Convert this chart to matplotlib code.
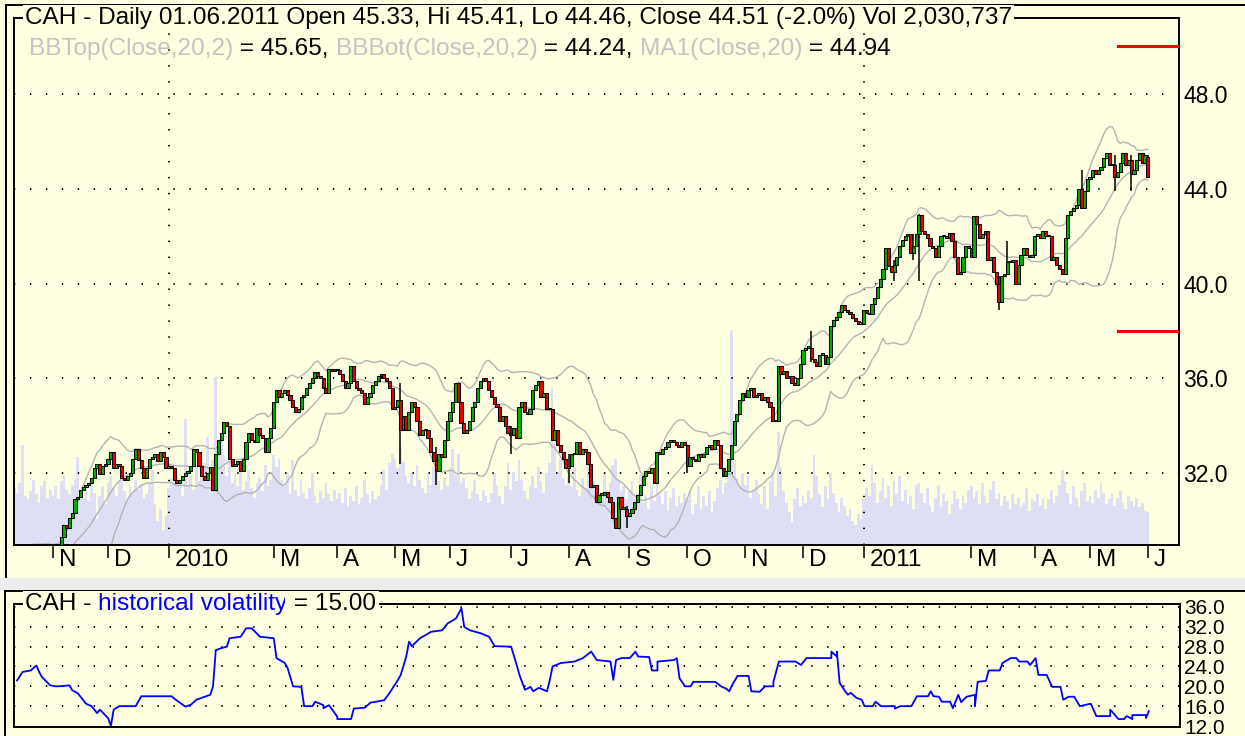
import numpy as np
import pandas as pd
import matplotlib
matplotlib.use("Agg")
import matplotlib.pyplot as plt
from matplotlib.lines import Line2D
from matplotlib.patches import Rectangle
import matplotlib.transforms as mtrans

# ---------------- data (trading-day index 0 = 02 Nov 2009) ----------------
first_day = -34
close_pre = [28.9, 29.1, 28.8, 28.5, 28.2, 27.9, 27.7, 27.8, 28.1, 28.4, 28.6, 28.3, 28.0, 27.8, 27.9, 28.2, 28.5, 28.7, 28.4, 28.2]
close_oct09 = [28.4, 28.6, 28.3, 28.5, 28.7, 28.9, 28.6, 28.95, 28.5, 28.3, 28.6, 28.4, 28.7, 28.8]
close_nov09 = [28.8, 28.9, 28.7, 29.3, 29.8, 29.7, 30.1, 30.3, 30.9, 31.0, 31.3, 31.4, 31.5, 31.6, 31.8, 32.2, 32.4, 31.95, 32.3, 32.4]
close_dec09 = [32.6, 32.9, 32.2, 32.4, 32.3, 31.8, 31.7, 31.9, 32.0, 32.6, 33.0, 32.55, 32.2, 31.8, 32.2, 32.6, 32.7, 32.8, 32.5, 32.9, 32.7, 32.2]
close_jan10 = [32.3, 32.2, 31.7, 31.6, 31.7, 31.9, 32.0, 32.1, 32.3, 33.0, 32.9, 32.3, 31.9, 31.7, 32.0, 32.25, 31.3, 32.8, 33.4]
close_feb10 = [33.7, 34.15, 34.0, 32.6, 32.3, 32.4, 32.5, 32.1, 32.6, 33.3, 33.7, 33.4, 33.3, 33.9, 33.6, 33.5, 32.9, 33.5, 33.9]
close_mar10 = [35.0, 35.5, 35.2, 35.4, 35.5, 35.3, 35.1, 34.8, 34.6, 34.7, 35.2, 35.3, 35.6, 35.8, 36.0, 36.25, 36.1, 36.0, 35.6, 35.4, 36.4, 36.3, 36.4]
close_apr10 = [36.35, 36.2, 35.9, 35.6, 35.8, 36.5, 35.9, 35.6, 35.5, 35.4, 34.9, 35.2, 35.4, 35.7, 35.9, 36.1, 36.2, 36.0, 35.9, 35.6, 34.7]
close_may10 = [34.8, 35.1, 33.8, 34.4, 33.8, 34.6, 35.0, 34.8, 34.2, 33.6, 33.8, 33.8, 33.5, 32.9, 32.5, 32.1, 32.8, 32.7, 33.4, 34.2]
close_jun10 = [34.6, 35.0, 35.8, 35.0, 34.1, 33.7, 33.8, 34.2, 34.8, 35.0, 35.6, 35.9, 36.0, 35.9, 35.5, 35.2, 34.9, 34.8, 34.2, 34.4, 34.0, 33.7]
close_jul10 = [33.6, 33.9, 33.5, 34.8, 35.0, 34.6, 34.5, 34.7, 35.5, 35.7, 35.9, 35.2, 35.4, 34.7, 34.7, 33.4, 33.8, 33.2, 32.9, 32.6, 32.2]
close_aug10 = [32.3, 32.8, 32.8, 33.3, 32.8, 33.0, 32.9, 32.4, 31.4, 31.5, 30.8, 31.1, 31.1, 31.2, 31.0, 30.8, 30.1, 29.7, 31.0, 30.5, 30.5, 30.2]
close_sep10 = [30.3, 30.5, 30.8, 31.1, 31.5, 31.9, 32.1, 32.0, 32.2, 31.6, 32.9, 32.8, 33.0, 33.1, 33.3, 33.4, 33.3, 33.2, 33.1, 33.3, 33.2]
close_oct10 = [32.3, 32.7, 32.6, 32.5, 32.8, 32.7, 32.8, 33.1, 33.2, 33.0, 33.4, 33.2, 32.2, 31.9, 32.1, 32.6, 33.2, 34.2, 34.5, 35.1, 35.4]
close_nov10 = [35.2, 35.5, 35.6, 35.2, 35.3, 35.4, 35.1, 35.2, 35.0, 34.8, 34.2, 34.2, 36.5, 36.2, 36.3, 36.0, 36.1, 35.8, 35.7, 36.0, 36.6]
close_dec10 = [37.2, 37.3, 37.3, 36.8, 36.7, 36.5, 37.0, 37.0, 36.6, 36.9, 38.2, 38.45, 38.6, 38.8, 39.1, 38.9, 38.8, 38.7, 38.55, 38.4, 38.3, 38.3]
close_jan11 = [38.9, 38.75, 38.7, 39.15, 39.4, 39.85, 40.2, 40.6, 41.5, 40.75, 40.5, 40.8, 41.1, 41.6, 41.85, 42.0, 42.1, 41.3, 41.6, 42.1]
close_feb11 = [42.9, 42.2, 42.1, 41.9, 41.6, 41.5, 41.1, 41.6, 42.0, 42.0, 41.9, 42.15, 41.8, 41.1, 40.4, 40.5, 41.1, 41.6, 41.5]
close_mar11 = [41.1, 42.85, 42.5, 41.9, 42.1, 42.2, 41.0, 41.1, 40.5, 40.0, 39.2, 40.3, 40.4, 40.9, 40.9, 41.0, 40.0, 40.8, 41.2, 41.5, 41.2, 41.1, 41.2]
close_apr11 = [42.0, 42.1, 41.9, 42.2, 42.0, 42.0, 41.0, 41.1, 40.8, 40.6, 40.4, 41.9, 42.9, 43.05, 43.2, 43.3, 44.0, 43.2, 43.9, 44.4]
close_may11 = [44.5, 44.8, 44.6, 44.8, 44.9, 45.3, 45.5, 45.0, 45.0, 44.5, 44.7, 45.1, 45.5, 45.0, 45.2, 44.6, 44.8, 45.2, 45.5, 45.1, 45.42]
close_jun11 = [44.51]
last_open = 45.33

vol_pre = [3.4, 3.8, 3.1, 3.6, 4.0, 3.3, 2.9, 3.7, 3.5, 3.2, 3.9, 3.0, 3.6, 3.3, 4.1, 3.4, 2.8, 3.6, 3.9, 3.2]
vol_oct09 = [3.5, 3.2, 3.8, 6.1, 3.0, 2.8, 3.3, 4.0, 3.1, 2.6, 3.6, 3.9, 2.9, 3.4]
vol_nov09 = [3.0, 3.6, 2.8, 3.9, 4.2, 3.4, 3.1, 3.7, 4.0, 5.4, 3.3, 2.9, 3.5, 2.7, 3.8, 3.2, 1.6, 3.0, 3.6, 2.5]
vol_dec09 = [3.8, 4.2, 3.5, 3.0, 3.9, 4.5, 3.3, 2.8, 3.6, 3.2, 4.0, 3.4, 3.7, 2.9, 3.1, 3.8, 4.6, 2.5, 1.5, 2.2, 0.9, 1.8]
vol_jan10 = [3.5, 4.1, 3.8, 4.4, 3.9, 3.0, 7.7, 3.6, 4.2, 3.4, 4.8, 3.9, 4.5, 5.0, 6.6, 4.0, 5.2, 10.3, 5.8]
vol_feb10 = [6.8, 5.5, 4.2, 5.9, 3.8, 4.4, 3.6, 5.0, 3.4, 3.9, 4.6, 3.5, 2.9, 3.8, 4.1, 3.3, 4.9, 3.6, 4.0]
vol_mar10 = [5.5, 4.8, 5.3, 4.0, 3.6, 4.5, 3.1, 5.2, 3.4, 3.0, 4.0, 3.2, 2.8, 3.5, 4.4, 3.0, 2.6, 3.3, 2.9, 3.8, 3.1, 2.7, 3.4]
vol_apr10 = [2.8, 3.2, 2.6, 3.5, 2.4, 3.0, 2.7, 3.6, 2.5, 2.9, 4.0, 3.1, 2.6, 3.3, 2.8, 3.0, 3.7, 4.6, 3.4, 5.0, 5.6]
vol_may10 = [5.3, 4.7, 6.0, 5.1, 4.2, 3.8, 4.5, 3.6, 4.9, 4.0, 3.5, 3.2, 4.4, 3.7, 4.8, 5.2, 3.9, 3.4, 4.1, 3.6]
vol_jun10 = [4.8, 5.9, 4.3, 5.6, 3.8, 4.1, 3.5, 2.8, 3.3, 4.0, 3.1, 2.7, 3.4, 3.0, 2.6, 3.2, 4.4, 3.7, 3.0, 2.5, 3.6, 5.0]
vol_jul10 = [3.4, 4.5, 3.9, 5.2, 4.0, 3.3, 2.8, 3.6, 4.2, 3.5, 4.8, 3.9, 3.2, 4.4, 5.0, 9.6, 6.2, 4.5, 5.3, 4.1, 3.7]
vol_aug10 = [4.2, 3.6, 4.8, 3.4, 3.0, 4.1, 3.5, 5.0, 4.6, 3.9, 3.2, 3.7, 2.9, 4.4, 3.1, 3.8, 4.9, 5.3, 4.0, 3.3, 3.6, 2.8]
vol_sep10 = [3.4, 3.9, 2.8, 3.2, 4.3, 2.6, 3.0, 2.2, 3.6, 2.7, 4.0, 3.1, 2.5, 3.3, 2.1, 2.9, 3.5, 2.4, 3.0, 2.6, 3.2]
vol_oct10 = [2.8, 3.4, 1.9, 2.5, 3.6, 2.2, 3.0, 2.4, 3.3, 2.0, 2.7, 3.5, 4.0, 3.1, 3.8, 4.6, 13.2, 5.2, 4.1, 3.6, 4.4]
vol_nov10 = [3.7, 4.2, 2.9, 3.4, 4.0, 3.1, 2.5, 3.6, 2.2, 3.9, 4.5, 3.0, 6.9, 4.8, 3.3, 2.6, 2.0, 1.4, 2.8, 3.5, 2.4]
vol_dec10 = [3.0, 2.6, 3.4, 2.9, 5.5, 4.2, 3.1, 2.3, 3.6, 2.8, 4.4, 3.2, 2.6, 2.0, 2.9, 2.4, 1.8, 2.2, 1.5, 1.2, 1.9, 1.6]
vol_jan11 = [2.8, 3.5, 3.0, 4.9, 3.8, 2.6, 3.3, 4.1, 2.9, 3.6, 2.4, 3.9, 3.1, 4.2, 2.7, 3.4, 2.5, 3.0, 2.2, 3.7]
vol_feb11 = [3.8, 3.2, 2.6, 3.5, 2.4, 2.0, 2.9, 3.7, 2.3, 3.1, 2.7, 1.9, 2.5, 3.3, 2.8, 2.2, 3.0, 2.6, 3.4]
vol_mar11 = [3.6, 2.9, 3.3, 2.5, 3.8, 3.0, 2.6, 3.4, 3.9, 2.8, 3.2, 2.4, 3.0, 2.7, 2.2, 3.1, 2.5, 2.9, 2.3, 2.6, 3.5, 2.1, 2.8]
vol_apr11 = [2.7, 3.1, 2.4, 2.9, 2.2, 2.8, 3.4, 2.6, 3.0, 3.7, 4.6, 3.9, 3.2, 2.5, 3.6, 2.9, 2.3, 3.3, 3.8, 2.7]
vol_may11 = [3.0, 2.6, 3.4, 2.9, 3.8, 3.2, 2.5, 2.8, 3.1, 2.4, 2.9, 3.3, 2.6, 2.2, 3.0, 2.7, 2.4, 2.9, 2.3, 2.6, 2.1]
vol_jun11 = [2.030737]

wick_days = [126, 139, 166, 187, 208, 230, 275, 305, 314, 312, 343, 346, 373, 385, 391, 397]
wick_lows = [32.4, 31.5, 32.8, 31.6, 29.7, 32.0, 36.7, 40.1, 40.1, 41.0, 38.9, 40.9, 43.2, 43.9, 43.9, 44.46]
wick_highs = [35.8, 33.1, 34.0, 32.8, 30.6, 33.2, 38.0, 41.0, 42.95, 42.1, 40.3, 41.8, 44.8, 45.4, 45.4, 45.41]

month_labels = ["N", "D", "2010", "M", "A", "M", "J", "J", "A", "S", "O", "N", "D", "2011", "M", "A", "M", "J"]
month_days = [0, 20, 42, 80, 103, 124, 144, 166, 187, 209, 230, 251, 272, 294, 333, 356, 376, 397]
year_days = [42, 294]
price_ticks = [32.0, 36.0, 40.0, 44.0, 48.0]
red_levels = [50.0, 38.0]

hv_days = [-13, -11, -8, -6, -5, -4, -1, 1, 2, 6, 7, 9, 12, 14, 16, 17, 20, 21, 22, 24, 30, 32, 43, 44, 48, 50, 52, 54, 57, 58,
           59, 61, 63, 64, 68, 70, 72, 75, 80, 81, 84, 85, 87, 90, 91, 94, 95, 98, 98, 100, 103, 103, 108, 109, 113, 115, 120, 122,
           125, 126, 128, 129, 130, 133, 137, 141, 143, 144, 146, 148, 149, 151, 155, 158, 160, 166, 168, 169, 171, 173, 174, 176,
           179, 180, 181, 184, 189, 192, 195, 197, 202, 203, 204,
           206, 209, 211, 212, 216, 217, 219, 219, 225, 226, 227, 229, 231, 232, 240, 242, 244, 245, 246, 248, 252, 253, 256, 258,
           261, 261, 263, 269, 271, 273, 282, 282, 284, 284, 285, 287, 288, 289, 291, 293, 294, 297, 298, 300, 305, 305, 307, 311,
           313, 317, 318, 319, 321, 322, 325, 326, 328, 329, 331, 334, 334, 335, 338, 339, 343, 344, 347, 349, 350, 353, 354, 356,
           357, 360, 362, 365, 366, 368, 370, 372, 376, 378, 383, 383, 386, 388, 389, 391, 391, 396, 396, 397]
hv_vals = [21.2, 22.9, 23.2, 24.2, 22.9, 21.9, 20.2, 20.0, 20.0, 20.2, 19.2, 18.6, 16.5, 16.0, 14.6, 15.3, 13.6, 12.0, 15.3, 16.0,
           16.0, 18.0, 18.0, 17.5, 15.9, 16.3, 17.3, 17.7, 18.3, 20.0,
           27.3, 27.7, 28.0, 29.7, 30.0, 31.7, 31.7, 30.0, 29.7, 25.7, 24.7, 23.7, 20.0, 19.9, 16.0, 16.0, 16.9, 16.2, 15.6, 16.2,
           13.9, 13.4, 13.4, 15.5, 15.7, 16.7, 17.2, 18.7,
           21.3, 22.3, 26.0, 29.0, 28.1, 29.7, 31.0, 31.3, 32.7, 33.0, 33.7, 35.7, 32.0, 31.3, 30.7, 30.0, 28.1, 28.0, 24.3, 22.3,
           19.3, 19.9, 19.0, 19.7, 19.0, 21.3, 24.0, 24.7, 25.0, 25.7, 27.0, 25.3, 25.0, 21.3, 25.3,
           25.7, 25.7, 27.0, 26.0, 25.9, 23.2, 23.2, 25.0, 25.3, 25.7, 21.6, 20.0, 20.0, 20.9, 20.9, 20.0, 19.5, 19.0, 20.2, 22.1,
           22.1, 19.0, 18.9, 20.0, 20.0, 20.9, 25.0, 25.0, 24.3, 25.7, 25.7, 27.0, 26.0, 27.0, 20.7, 19.0, 18.3, 18.7, 17.7, 17.3,
           16.0, 16.0, 16.9, 16.0, 16.0, 15.5, 16.0, 16.0, 18.0, 18.0, 19.0, 18.0, 17.9, 16.9, 16.9, 15.6, 18.3, 16.8, 17.9, 18.3,
           16.0, 20.9, 21.1, 23.2, 23.2, 24.7, 25.7, 25.7, 25.0, 25.0, 24.3, 25.7, 22.3, 22.3, 19.9, 19.9, 17.3, 17.9, 17.9, 16.0,
           16.5, 14.0, 14.0, 15.3, 13.4, 13.4, 14.0, 13.4, 14.2, 14.2, 13.6, 15.0]
hv_ticks = [12.0, 16.0, 20.0, 24.0, 28.0, 32.0, 36.0]

# ---------------- assemble ----------------
closes = np.array(close_pre + close_oct09 + close_nov09 + close_dec09 + close_jan10 + close_feb10 + close_mar10 +
                  close_apr10 + close_may10 + close_jun10 + close_jul10 + close_aug10 + close_sep10 + close_oct10 +
                  close_nov10 + close_dec10 + close_jan11 + close_feb11 + close_mar11 + close_apr11 + close_may11 + close_jun11)
vols = np.array(vol_pre + vol_oct09 + vol_nov09 + vol_dec09 + vol_jan10 + vol_feb10 + vol_mar10 + vol_apr10 + vol_may10 +
                vol_jun10 + vol_jul10 + vol_aug10 + vol_sep10 + vol_oct10 + vol_nov10 + vol_dec10 + vol_jan11 + vol_feb11 +
                vol_mar11 + vol_apr11 + vol_may11 + vol_jun11)
n = min(len(closes), len(vols))
closes = closes[:n]
vols = vols[:n]
days = np.arange(first_day, first_day + n)
opens = np.concatenate([[closes[0]], closes[:-1]])
opens[-1] = last_open
nh = min(len(hv_days), len(hv_vals))

s = pd.Series(closes)
ma = s.rolling(20).mean()
sd = s.rolling(20).std(ddof=0)
bb_top = ma + 2 * sd
bb_bot = ma - 2 * sd

# ---------------- figure ----------------
W, H = 1245, 736
BG = "#FFFFE1"
FONT = ["Liberation Sans", "DejaVu Sans"]
fig = plt.figure(figsize=(W / 100, H / 100), dpi=100, facecolor=BG)


def rect(l, t, r, b):
    return [l / W, 1 - b / H, (r - l) / W, (b - t) / H]


XLIM = (-14.1, 408.3)
DOT = (0, (0.7, 7.5))

# volume axes (behind), price axes (front)
axv = fig.add_axes(rect(14, 18, 1179, 545))
ax = fig.add_axes(rect(14, 18, 1179, 545), sharex=axv)
axv.set_facecolor(BG)
ax.patch.set_visible(False)
axv.bar(days, vols, width=1.0, color="#DEDEF5", linewidth=0, align="center")
axv.set_ylim(0, 32.3)
axv.set_xlim(*XLIM)
axv.axis("off")

for yv in price_ticks:
    ax.axhline(yv, color="black", lw=1.4, linestyle=DOT, zorder=1)
for d in year_days:
    ax.axvline(d, color="black", lw=1.4, linestyle=DOT, zorder=1)

ax.plot(days, bb_top, color="#B4B4B4", lw=1.0, zorder=2)
ax.plot(days, ma, color="#B4B4B4", lw=1.0, zorder=2)
ax.plot(days, bb_bot, color="#B4B4B4", lw=1.0, zorder=2)

nw = min(len(wick_days), len(wick_lows), len(wick_highs))
ax.vlines(wick_days[:nw], wick_lows[:nw], wick_highs[:nw], color="black", lw=1.1, zorder=2.5)

up = closes >= opens
body_lo = np.minimum(opens, closes)
body_h = np.maximum(np.abs(closes - opens), 0.06)
ax.bar(days, body_h, bottom=body_lo, width=1.15, color=np.where(up, "#00B000", "#E80000"),
       edgecolor="black", linewidth=0.75, zorder=3)

for lv in red_levels:
    ax.axhline(lv, xmin=0.948, xmax=0.998, color="#FF0000", lw=2.2, zorder=4)

ax.set_xlim(*XLIM)
ax.set_ylim(28.97, 51.2)
ax.yaxis.tick_right()
ax.set_yticks(price_ticks)
ax.set_yticklabels(["%.1f" % v for v in price_ticks], fontsize=16.5, family=FONT)
ax.tick_params(axis="y", length=0, pad=3)
ax.set_xticks(month_days)
ax.set_xticklabels([])
ax.tick_params(axis="x", direction="out", length=9.5, width=1.1, color="black")
for sp in ax.spines.values():
    sp.set_linewidth(1.4)
    sp.set_color("black")

blend = mtrans.blended_transform_factory(ax.transData, ax.transAxes)
lbl_tr = mtrans.offset_copy(blend, fig=fig, x=6, y=-15, units="dots")
for d, lab in zip(month_days, month_labels):
    ax.text(d, 0, lab, transform=lbl_tr, ha="left", va="center", fontsize=17.5, family=FONT, color="black")

# ---------------- volatility panel ----------------
axh = fig.add_axes(rect(14, 604, 1180, 727))
axh.set_facecolor(BG)
for yv in hv_ticks[1:]:
    axh.axhline(yv, color="black", lw=1.4, linestyle=DOT, zorder=1)
axh.plot(hv_days[:nh], hv_vals[:nh], color="#0000FF", lw=1.3, zorder=3)
axh.set_xlim(*XLIM)
axh.set_ylim(11.8, 36.6)
axh.yaxis.tick_right()
axh.set_yticks(hv_ticks)
axh.set_yticklabels(["%.1f" % v for v in hv_ticks], fontsize=15, family=FONT)
axh.tick_params(axis="y", length=0, pad=3)
axh.set_xticks([])
for sp in axh.spines.values():
    sp.set_linewidth(1.4)
    sp.set_color("black")

# ---------------- pane frames / separator ----------------
fig.add_artist(Rectangle((0, 1 - 591 / H), 1, 13 / H, transform=fig.transFigure, facecolor="#ECECEC",
                         edgecolor="none", zorder=0.5))
fig.add_artist(Line2D([6 / W, 6 / W], [1 - 5 / H, 1 - 577 / H], transform=fig.transFigure, color="black", lw=1.4))
fig.add_artist(Line2D([6 / W, 1], [1 - 5 / H, 1 - 5 / H], transform=fig.transFigure, color="black", lw=1.4))
fig.add_artist(Line2D([5 / W, 5 / W], [1 - 591 / H, 0], transform=fig.transFigure, color="black", lw=1.4))
fig.add_artist(Line2D([5 / W, 1], [1 - 591 / H, 1 - 591 / H], transform=fig.transFigure, color="black", lw=1.4))

# ---------------- titles ----------------
renderer = fig.canvas.get_renderer()


def seg_text(x_px, y_px, parts, size, box):
    x = x_px
    for txt, col in parts:
        kw = dict(bbox=dict(facecolor=BG, edgecolor="none", pad=1.5)) if box else {}
        t = fig.text(x / W, 1 - y_px / H, txt, color=col, fontsize=size, family=FONT, ha="left", va="center", **kw)
        x += t.get_window_extent(renderer).width


GRAY = "#C4C4C4"
seg_text(25, 18, [("CAH - Daily 01.06.2011 Open 45.33, Hi 45.41, Lo 44.46, Close 44.51 (-2.0%) Vol 2,030,737", "black")],
         17.6, True)
seg_text(29, 49, [("BBTop(Close,20,2)", GRAY), (" = 45.65, ", "black"), ("BBBot(Close,20,2)", GRAY),
                  (" = 44.24, ", "black"), ("MA1(Close,20)", GRAY), (" = 44.94", "black")], 17.6, False)
seg_text(25, 604, [("CAH - ", "black"), ("historical volatility", "#0000FF"), (" = 15.00", "black")], 17.6, True)

fig.savefig("out.png", dpi=100, facecolor=BG)
